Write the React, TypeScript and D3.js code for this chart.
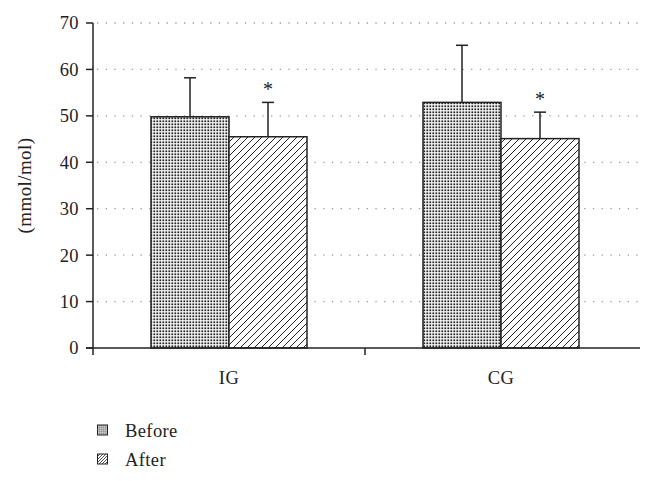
import React from 'react';
import * as d3 from 'd3';

const groups = ['IG', 'CG'];
const series = ['Before', 'After'];
const means = [
  [49.8, 45.5],
  [52.9, 45.1],
];
const errTop = [
  [58.2, 52.9],
  [65.2, 50.8],
];
const starred = [false, true];
const yTicks = [0, 10, 20, 30, 40, 50, 60, 70];

const width = 650;
const height = 481;
const left = 93;
const right = 637;
const top = 23;
const bottom = 348;
const font = '"Liberation Serif", "DejaVu Serif", serif';
const ink = '#222';
const fs = 18.5;
const ls = 0.4;

const App = () => {
  const y = d3.scaleLinear().domain([0, 70]).range([bottom, top]);
  const x = d3.scaleBand().domain(groups).range([left, right]);
  const inner = d3.scaleBand().domain(series).range([0, 156]);
  const groupOffset = (x.bandwidth() - 156) / 2;
  const fills = ['url(#dots)', 'url(#hatch)'];
  const legendFills = ['url(#dotsSmall)', 'url(#hatchSmall)'];

  return (
    <svg width={width} height={height} style={{ position: 'absolute', left: 0, top: 0, background: '#fff' }}>
      <defs>
        <pattern id="dots" width={3} height={3} patternUnits="userSpaceOnUse">
          <rect width={3} height={3} fill="#fff" />
          <rect x={0.4} y={0.4} width={1.8} height={1.8} fill={ink} />
        </pattern>
        <pattern id="hatch" width={7} height={7} patternUnits="userSpaceOnUse">
          <rect width={7} height={7} fill="#fff" />
          <path d="M-1,8 L8,-1 M-1,1 L1,-1 M6,8 L8,6" stroke={ink} strokeWidth={1} />
        </pattern>
        <pattern id="dotsSmall" width={2} height={2} patternUnits="userSpaceOnUse">
          <rect width={2} height={2} fill="#fff" />
          <rect x={0.3} y={0.3} width={1.2} height={1.2} fill={ink} />
        </pattern>
        <pattern id="hatchSmall" width={3} height={3} patternUnits="userSpaceOnUse">
          <rect width={3} height={3} fill="#fff" />
          <path d="M-1,4 L4,-1" stroke={ink} strokeWidth={0.8} />
        </pattern>
      </defs>

      {/* grid */}
      {yTicks.filter(t => t > 0).map(t => (
        <line key={t} x1={left + 4} x2={640} y1={y(t)} y2={y(t)}
          stroke="#999" strokeWidth={1.3} strokeDasharray="1.3 7.4" />
      ))}

      {/* bars */}
      {groups.map((g, gi) =>
        series.map((s, si) => {
          const bx = (x(g) as number) + groupOffset + (inner(s) as number);
          const bw = inner.bandwidth();
          const cx = bx + bw / 2;
          return (
            <g key={g + s}>
              <line x1={cx} x2={cx} y1={y(means[gi][si])} y2={y(errTop[gi][si])} stroke={ink} strokeWidth={1.5} />
              <line x1={cx - 6} x2={cx + 6} y1={y(errTop[gi][si])} y2={y(errTop[gi][si])} stroke={ink} strokeWidth={1.5} />
              <rect x={bx} y={y(means[gi][si])} width={bw} height={bottom - y(means[gi][si])}
                fill={fills[si]} stroke={ink} strokeWidth={1.5} />
              {starred[si] && (
                <text x={cx} y={y(errTop[gi][si]) - 6} textAnchor="middle" fontFamily={font} fontSize={20} fill={ink}>*</text>
              )}
            </g>
          );
        })
      )}

      {/* y axis */}
      <line x1={left} x2={left} y1={top} y2={bottom + 7} stroke={ink} strokeWidth={1.5} />
      {yTicks.map(t => (
        <g key={t}>
          <line x1={left - 7} x2={left} y1={y(t)} y2={y(t)} stroke={ink} strokeWidth={1.5} />
          <text x={left - 14} y={y(t)} dy="0.35em" textAnchor="end" fontFamily={font} fontSize={fs}
            letterSpacing={ls} fill={ink}>{t}</text>
        </g>
      ))}

      {/* x axis */}
      <line x1={left - 7} x2={640} y1={bottom} y2={bottom} stroke={ink} strokeWidth={1.5} />
      <line x1={x('CG')} x2={x('CG')} y1={bottom} y2={bottom + 7} stroke={ink} strokeWidth={1.5} />
      {groups.map(g => (
        <text key={g} x={(x(g) as number) + x.bandwidth() / 2} y={384} textAnchor="middle"
          fontFamily={font} fontSize={fs} letterSpacing={ls} fill={ink}>{g}</text>
      ))}

      <text transform={`translate(31,${(top + bottom) / 2}) rotate(-90)`} textAnchor="middle"
        fontFamily={font} fontSize={19} letterSpacing={ls} fill={ink}>(mmol/mol)</text>

      {/* legend */}
      {series.map((s, i) => (
        <g key={s} transform={`translate(97,${425 + i * 29})`}>
          <rect x={0.5} y={0} width={10} height={10} fill={legendFills[i]} stroke={ink} strokeWidth={1} />
          <text x={28} y={11.5} fontFamily={font} fontSize={fs} letterSpacing={ls} fill={ink}>{s}</text>
        </g>
      ))}
    </svg>
  );
};

export default App;
